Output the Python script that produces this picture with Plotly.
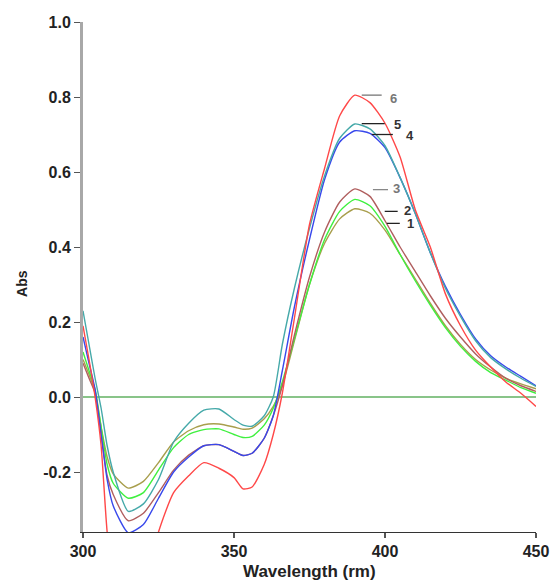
import plotly.graph_objects as go

# ---- data ----
wavelength = [300, 302, 304, 306, 308, 310, 315, 320, 325, 330, 335, 340, 345, 350,
              353, 356, 360, 363, 366, 370, 375, 380, 385, 390, 395, 400, 405, 410,
              415, 420, 425, 430, 435, 440, 445, 450]

abs_1 = [0.10, 0.06, 0.015, -0.08, -0.16, -0.205, -0.243, -0.225, -0.175, -0.12, -0.09,
         -0.074, -0.072, -0.08, -0.086, -0.083, -0.058, -0.025, 0.03, 0.15, 0.30, 0.41,
         0.475, 0.502, 0.49, 0.445, 0.38, 0.315, 0.25, 0.19, 0.14, 0.10, 0.072, 0.05,
         0.035, 0.022]

abs_2 = [0.12, 0.07, 0.02, -0.08, -0.18, -0.23, -0.27, -0.255, -0.195, -0.135, -0.10,
         -0.087, -0.085, -0.10, -0.108, -0.105, -0.075, -0.03, 0.04, 0.155, 0.30, 0.42,
         0.495, 0.527, 0.51, 0.455, 0.38, 0.31, 0.245, 0.185, 0.135, 0.095, 0.065,
         0.045, 0.025, 0.01]

abs_3 = [0.09, 0.05, 0.01, -0.10, -0.21, -0.26, -0.33, -0.31, -0.255, -0.195, -0.155,
         -0.13, -0.127, -0.145, -0.156, -0.15, -0.11, -0.05, 0.03, 0.165, 0.32, 0.44,
         0.52, 0.555, 0.535, 0.47, 0.40, 0.335, 0.27, 0.21, 0.16, 0.115, 0.08, 0.05,
         0.03, 0.015]

abs_4 = [0.16, 0.09, 0.02, -0.10, -0.22, -0.29, -0.362, -0.34, -0.27, -0.20, -0.16,
         -0.13, -0.127, -0.145, -0.156, -0.15, -0.11, -0.05, 0.07, 0.24, 0.42, 0.58,
         0.68, 0.71, 0.703, 0.665, 0.585, 0.49, 0.385, 0.295, 0.22, 0.155, 0.11, 0.08,
         0.055, 0.03]

abs_5 = [0.23, 0.14, 0.05, -0.03, -0.13, -0.20, -0.305, -0.285, -0.22, -0.12, -0.07,
         -0.035, -0.032, -0.06, -0.075, -0.078, -0.05, 0.0, 0.14, 0.29, 0.45, 0.59,
         0.69, 0.728, 0.715, 0.67, 0.585, 0.49, 0.385, 0.29, 0.215, 0.15, 0.105,
         0.075, 0.05, 0.028]

abs_6 = [0.19, 0.10, 0.0, -0.13, -0.36, -0.48, -0.58, -0.52, -0.36, -0.255, -0.21,
         -0.175, -0.19, -0.215, -0.245, -0.24, -0.18, -0.10, 0.01, 0.21, 0.46, 0.61,
         0.75, 0.805, 0.785, 0.73, 0.64, 0.50, 0.40, 0.275, 0.19, 0.125, 0.08, 0.04,
         0.01, -0.025]

baseline_x = [300, 450]
baseline_y = [0.0, 0.0]

series_names = ["1", "2", "3", "4", "5", "6"]
series_values = [abs_1, abs_2, abs_3, abs_4, abs_5, abs_6]
series_colors = ["#a89e4c", "#3ff03f", "#b05e5e", "#3848ec", "#45a9a9", "#ff4848"]

x_ticks = [300, 350, 400, 450]
y_ticks = [-0.2, 0.0, 0.2, 0.4, 0.6, 0.8, 1.0]
y_ticklabels = ["-0.2", "0.0", "0.2", "0.4", "0.6", "0.8", "1.0"]

x_title = "Wavelength (rm)"
y_title = "Abs"

# label callouts: (name, line x0, line x1, line y, text x, text y, line colour, text colour)
label_layout = [
    ("6", 392.3, 398.9, 0.805, 401.0, 0.795, "#777777", "#777777"),
    ("5", 392.3, 399.9, 0.729, 402.4, 0.727, "#222222", "#333333"),
    ("4", 395.6, 402.6, 0.700, 406.4, 0.698, "#222222", "#333333"),
    ("3", 396.0, 401.0, 0.553, 402.0, 0.555, "#888888", "#777777"),
    ("2", 399.9, 404.2, 0.495, 405.7, 0.497, "#222222", "#333333"),
    ("1", 400.6, 404.9, 0.463, 406.7, 0.463, "#222222", "#333333"),
]

fig = go.Figure()

fig.add_trace(go.Scatter(x=baseline_x, y=baseline_y, mode="lines",
                         line=dict(color="#62b062", width=1.3),
                         showlegend=False, hoverinfo="skip"))

for name, vals, col in zip(series_names, series_values, series_colors):
    fig.add_trace(go.Scatter(x=wavelength, y=vals, mode="lines", name=name,
                             line=dict(color=col, width=1.4, shape="spline", smoothing=0.6),
                             showlegend=False))

for name, lx0, lx1, ly, tx, ty, lcol, tcol in label_layout:
    fig.add_shape(type="line", x0=lx0, x1=lx1, y0=ly, y1=ly, xref="x", yref="y",
                  line=dict(color=lcol, width=1.3))
    fig.add_annotation(x=tx, y=ty, text=name, showarrow=False, xref="x", yref="y",
                       xanchor="left", yanchor="middle",
                       font=dict(family="Liberation Sans, Arial", size=13, color=tcol,
                                 weight="bold"))

# axis titles placed as paper annotations
fig.add_annotation(x=0.5, y=-0.078, xref="paper", yref="paper", text=x_title,
                   showarrow=False, xanchor="center", yanchor="middle",
                   font=dict(family="Liberation Sans, Arial", size=17, color="#222222",
                             weight="bold"))
fig.add_annotation(x=-0.135, y=0.488, xref="paper", yref="paper", text=y_title,
                   showarrow=False, xanchor="center", yanchor="middle", textangle=-90,
                   font=dict(family="Liberation Sans, Arial", size=14, color="#222222",
                             weight="bold"))

fig.update_layout(
    width=551, height=580,
    margin=dict(l=83, r=15, t=22, b=48),
    paper_bgcolor="white", plot_bgcolor="white",
    font=dict(family="Liberation Sans, Arial", color="#222222"),
    showlegend=False,
)

fig.update_xaxes(
    range=[300, 450], tickvals=x_ticks, ticktext=[str(v) for v in x_ticks],
    showgrid=False, zeroline=False, automargin=False,
    showline=True, linecolor="#333333", linewidth=1,
    ticks="outside", ticklen=5, tickcolor="#555555", tickwidth=1.5,
    tickfont=dict(size=16, color="#222222", weight="bold"),
)

fig.update_yaxes(
    range=[-0.36, 1.0], tickvals=y_ticks, ticktext=y_ticklabels,
    showgrid=False, zeroline=False, automargin=False,
    showline=True, linecolor="#a8a8a8", linewidth=3,
    ticks="outside", ticklen=6, tickcolor="#555555", tickwidth=1,
    tickfont=dict(size=16, color="#222222", weight="bold"),
)

fig.write_html(
    "out.html",
    config={"displayModeBar": False},
    post_script="document.body.style.margin='0px';document.body.style.overflow='hidden';",
)
